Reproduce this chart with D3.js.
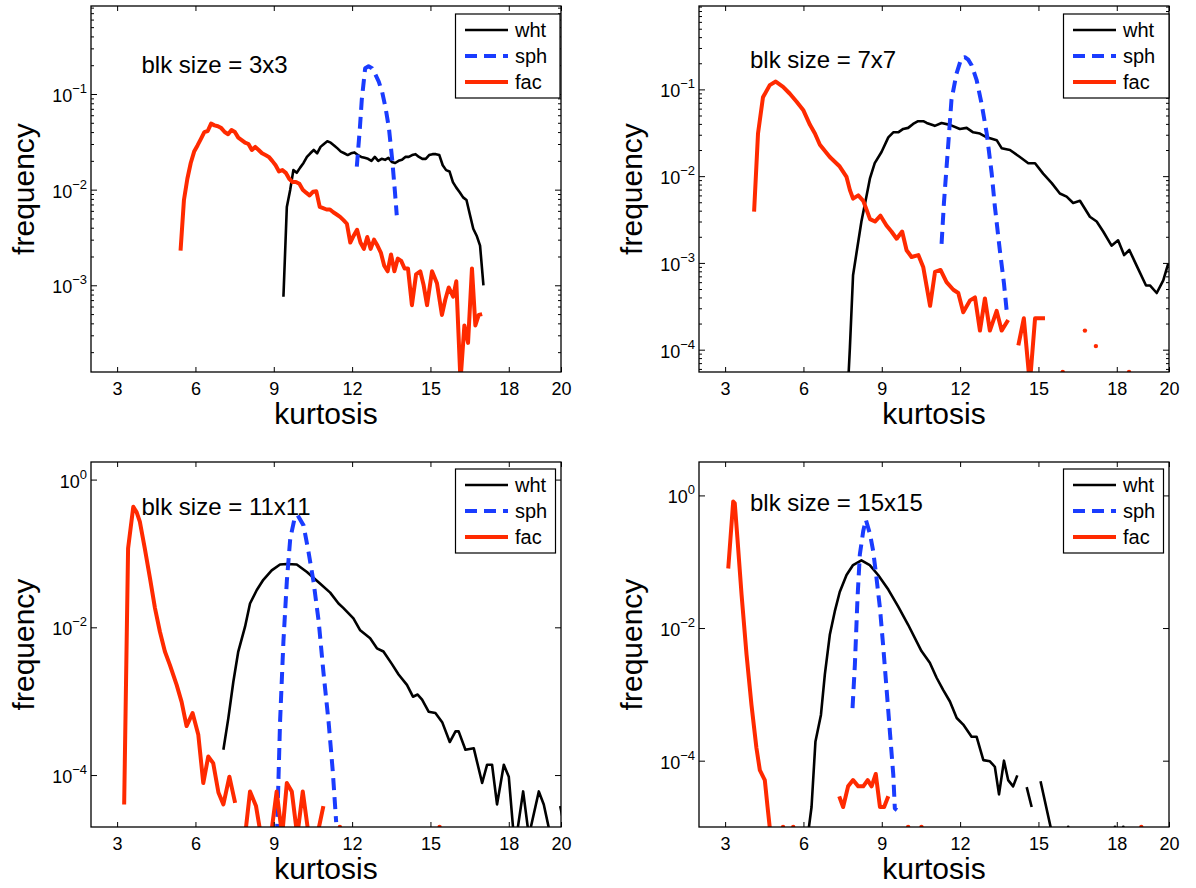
<!DOCTYPE html>
<html><head><meta charset="utf-8">
<script src="https://cdn.jsdelivr.net/npm/d3@7"></script>
<style>
body{margin:0;background:#fff}
svg{display:block}
text{font-family:"Liberation Sans",Arial,Helvetica,sans-serif;fill:#000}
</style>
</head><body>
<svg id="c" width="1196" height="888"></svg>
<script>
// ---------------- data ----------------
const xTicks = [3, 6, 9, 12, 15, 18, 20];
const xDomain = [2, 20];
const seriesNames = ["wht", "sph", "fac"];
const panelTitles = ["blk size = 3x3", "blk size = 7x7", "blk size = 11x11", "blk size = 15x15"];
const yExpTicks = [[-1, -2, -3], [-1, -2, -3, -4], [0, -2, -4], [0, -2, -4]];
const yMinorTicks = [true, true, false, false];
const yDomains = [[1.24e-4, 0.832], [5.53e-5, 0.914], [1.98e-5, 1.73], [1.0e-5, 3.19]];

// [kurtosis, frequency]; null = empty bin (gap)
const wht3x3 = [[9.37,7.6e-4],[9.50,6.6e-3],[9.63,1.0e-2],[9.75,1.6e-2],[9.88,1.5e-2],[10.01,1.7e-2],[10.14,1.9e-2],[10.27,2.2e-2],[10.40,2.4e-2],[10.53,2.6e-2],[10.66,2.4e-2],[10.79,2.8e-2],[10.92,3.0e-2],[11.05,3.2e-2],[11.18,3.1e-2],[11.31,2.9e-2],[11.44,2.7e-2],[11.57,2.5e-2],[11.70,2.4e-2],[11.83,2.3e-2],[11.96,2.4e-2],[12.09,2.45e-2],[12.22,2.3e-2],[12.35,2.2e-2],[12.48,2.15e-2],[12.61,2.1e-2],[12.74,2.0e-2],[12.87,2.2e-2],[13.00,2.0e-2],[13.13,2.1e-2],[13.26,2.05e-2],[13.39,2.15e-2],[13.52,1.95e-2],[13.65,1.9e-2],[13.78,2.0e-2],[13.91,2.05e-2],[14.04,2.2e-2],[14.17,2.2e-2],[14.30,2.3e-2],[14.43,2.35e-2],[14.56,2.2e-2],[14.69,2.1e-2],[14.82,2.1e-2],[14.95,2.3e-2],[15.08,2.35e-2],[15.21,2.35e-2],[15.34,2.3e-2],[15.47,1.8e-2],[15.60,1.6e-2],[15.73,1.55e-2],[15.86,1.2e-2],[15.99,1.05e-2],[16.12,9.4e-3],[16.25,8.3e-3],[16.38,7.8e-3],[16.51,5.5e-3],[16.64,3.9e-3],[16.77,3.3e-3],[16.90,2.6e-3],[17.03,1.0e-3]];
const sph3x3 = [[12.18,1.74e-2],[12.30,4.5e-2],[12.37,8.7e-2],[12.50,1.86e-1],[12.63,1.95e-1],[12.76,1.86e-1],[12.89,1.6e-1],[13.02,1.35e-1],[13.15,1.05e-1],[13.28,7.2e-2],[13.41,4.4e-2],[13.54,2.0e-2],[13.64,9.5e-3],[13.71,5.4e-3]];
const fac3x3 = [[5.43,2.3e-3],[5.56,7.8e-3],[5.69,1.3e-2],[5.82,1.9e-2],[5.95,2.5e-2],[6.08,2.9e-2],[6.21,3.4e-2],[6.34,4.0e-2],[6.47,4.1e-2],[6.60,4.9e-2],[6.73,4.7e-2],[6.86,4.6e-2],[6.99,4.4e-2],[7.12,4.0e-2],[7.25,3.8e-2],[7.38,4.2e-2],[7.51,4.0e-2],[7.64,3.5e-2],[7.77,3.3e-2],[7.90,3.1e-2],[8.03,3.0e-2],[8.16,2.6e-2],[8.29,2.8e-2],[8.42,2.6e-2],[8.55,2.4e-2],[8.68,2.3e-2],[8.81,2.2e-2],[8.94,2.0e-2],[9.07,1.8e-2],[9.20,1.55e-2],[9.33,1.6e-2],[9.46,1.5e-2],[9.59,1.3e-2],[9.72,1.2e-2],[9.85,1.2e-2],[9.98,1.15e-2],[10.11,1.0e-2],[10.24,9.3e-3],[10.37,8.7e-3],[10.50,9.5e-3],[10.63,9.6e-3],[10.76,6.6e-3],[10.89,6.4e-3],[11.02,6.2e-3],[11.15,6.2e-3],[11.28,5.8e-3],[11.41,5.5e-3],[11.54,5.2e-3],[11.67,4.8e-3],[11.80,4.4e-3],[11.93,2.8e-3],[12.06,3.3e-3],[12.19,3.8e-3],[12.32,2.8e-3],[12.45,2.4e-3],[12.58,3.2e-3],[12.71,2.4e-3],[12.84,3.0e-3],[12.97,2.6e-3],[13.10,2.2e-3],[13.23,1.6e-3],[13.36,1.4e-3],[13.49,2.1e-3],[13.62,1.4e-3],[13.75,1.9e-3],[13.88,1.8e-3],[14.01,1.5e-3],[14.14,1.5e-3],[14.29,6.2e-4],[14.45,1.3e-3],[14.61,1.4e-3],[14.74,1.0e-3],[14.87,6.2e-4],[15.06,1.4e-3],[15.25,1.05e-3],[15.44,4.9e-4],[15.57,7.1e-4],[15.70,9.5e-4],[15.87,7.6e-4],[15.99,1.1e-3],[16.15,1.0e-4],[16.30,3.8e-4],[16.44,2.5e-4],[16.59,1.5e-3],[16.72,3.8e-4],[16.85,4.9e-4],[16.98,5.0e-4]];

const wht7x7 = [[7.71,4e-5],[7.78,1.07e-4],[7.90,7.2e-4],[8.03,1.29e-3],[8.22,3.0e-3],[8.41,5.8e-3],[8.55,9.5e-3],[8.73,1.41e-2],[8.99,1.9e-2],[9.25,2.8e-2],[9.44,3.2e-2],[9.63,3.2e-2],[9.82,3.5e-2],[10.01,3.6e-2],[10.20,4.0e-2],[10.39,4.3e-2],[10.59,4.3e-2],[10.72,4.1e-2],[11.03,3.8e-2],[11.29,4.1e-2],[11.61,3.9e-2],[11.99,3.5e-2],[12.25,3.6e-2],[12.50,3.2e-2],[12.76,3.1e-2],[13.02,2.8e-2],[13.21,2.7e-2],[13.40,2.6e-2],[13.59,2.1e-2],[13.91,2.0e-2],[14.29,1.66e-2],[14.61,1.41e-2],[14.87,1.41e-2],[15.18,1.07e-2],[15.51,8.3e-3],[15.82,6.3e-3],[16.08,5.8e-3],[16.33,4.9e-3],[16.59,5.2e-3],[16.97,3.4e-3],[17.23,3.0e-3],[17.48,2.3e-3],[17.80,1.58e-3],[18.05,1.82e-3],[18.28,1.23e-3],[18.48,1.41e-3],[18.76,9.3e-4],[19.12,5.5e-4],[19.27,5.5e-4],[19.53,4.5e-4],[19.78,6.3e-4],[19.97,9.8e-4]];
const sph7x7 = [[11.29,1.66e-3],[11.38,4.9e-3],[11.54,2.2e-2],[11.67,7.6e-2],[11.86,1.51e-1],[12.05,2.3e-1],[12.18,2.35e-1],[12.31,2.2e-1],[12.44,1.9e-1],[12.63,1.29e-1],[12.82,6.9e-2],[13.02,3.1e-2],[13.21,1.07e-2],[13.33,4.5e-3],[13.52,1.41e-3],[13.68,5.8e-4],[13.80,2.5e-4]];
const fac7x7 = [[4.11,3.9e-3],[4.26,3.1e-2],[4.45,8.1e-2],[4.71,1.12e-1],[4.94,1.23e-1],[5.22,1.07e-1],[5.48,8.9e-2],[5.74,7.2e-2],[5.99,5.8e-2],[6.25,3.9e-2],[6.44,3.1e-2],[6.63,2.3e-2],[7.01,1.66e-2],[7.39,1.29e-2],[7.65,9.8e-3],[7.78,6.9e-3],[7.90,5.5e-3],[8.10,6.0e-3],[8.29,5.2e-3],[8.55,3.2e-3],[8.74,3.0e-3],[8.95,3.5e-3],[9.18,2.7e-3],[9.37,2.3e-3],[9.57,1.9e-3],[9.78,2.3e-3],[9.95,1.4e-3],[10.14,1.17e-3],[10.40,1.23e-3],[10.59,8.9e-4],[10.85,3.2e-4],[11.04,7.9e-4],[11.25,8.3e-4],[11.48,6.0e-4],[11.74,4.9e-4],[11.93,4.5e-4],[12.12,2.7e-4],[12.38,3.7e-4],[12.57,4.0e-4],[12.76,1.66e-4],[12.95,3.9e-4],[13.14,1.66e-4],[13.40,2.8e-4],[13.59,1.66e-4],[13.84,2.2e-4],[14.03,null],[14.23,1.12e-4],[14.44,2.3e-4],[14.67,4e-5],[14.87,2.3e-4],[15.06,2.3e-4],[15.25,2.3e-4],[15.5,null],[15.93,5.53e-5],[16.3,null],[16.78,1.66e-4],[17.0,null],[17.20,1.1e-4],[17.8,null],[18.47,5.53e-5]];

const wht11x11 = [[7.07,2.2e-4],[7.26,5.9e-4],[7.45,1.82e-3],[7.64,4.7e-3],[7.90,1.02e-2],[8.09,2.1e-2],[8.35,3.2e-2],[8.60,4.4e-2],[8.92,5.9e-2],[9.24,7.1e-2],[9.50,7.2e-2],[9.88,7.1e-2],[10.27,5.6e-2],[10.78,3.9e-2],[11.16,2.95e-2],[11.48,2.1e-2],[11.67,1.82e-2],[12.05,1.32e-2],[12.31,9.1e-3],[12.69,7.1e-3],[12.95,5.2e-3],[13.20,4.7e-3],[13.52,3.2e-3],[13.78,2.3e-3],[14.10,1.66e-3],[14.33,1.15e-3],[14.51,1.23e-3],[14.68,1.05e-3],[14.93,7.2e-4],[15.19,6.9e-4],[15.45,5.2e-4],[15.74,2.8e-4],[15.96,3.9e-4],[16.08,3.9e-4],[16.34,2.2e-4],[16.66,2.3e-4],[16.98,7.8e-5],[17.17,1.38e-4],[17.36,1.38e-4],[17.55,4.0e-5],[17.81,1.38e-4],[18.00,9.5e-5],[18.19,1.5e-5],[18.30,1.5e-5],[18.55,6.0e-5],[18.77,1.5e-5],[19.15,6.0e-5],[19.34,4.0e-5],[19.60,1.5e-5],[19.78,null],[19.97,3.8e-5],[20.2,1.5e-5]];
const sph11x11 = [[9.12,1.5e-5],[9.24,5.2e-4],[9.37,6.5e-3],[9.50,4.2e-2],[9.63,1.58e-1],[9.78,2.8e-1],[9.91,3.3e-1],[10.14,2.4e-1],[10.33,1.05e-1],[10.52,4.2e-2],[10.72,1.2e-2],[10.90,2.5e-3],[11.10,5.2e-4],[11.26,1.12e-4],[11.39,2.3e-5]];
const fac11x11 = [[3.27,4.0e-5],[3.42,1.17e-1],[3.62,4.3e-1],[3.75,3.6e-1],[3.87,2.7e-1],[4.06,1.17e-1],[4.26,4.6e-2],[4.45,1.82e-2],[4.64,8.7e-3],[4.83,4.7e-3],[5.02,3.1e-3],[5.28,1.66e-3],[5.47,9.8e-4],[5.66,4.6e-4],[5.89,6.9e-4],[6.11,3.5e-4],[6.30,7.8e-5],[6.49,1.78e-4],[6.68,1.45e-4],[6.88,5.8e-5],[7.07,4.0e-5],[7.30,9.5e-5],[7.52,4.2e-5],[7.71,null],[7.90,1.5e-5],[8.09,6.0e-5],[8.32,3.8e-5],[8.51,1.5e-5],[8.89,1.5e-5],[9.11,6.0e-5],[9.32,1.5e-5],[9.50,7.8e-5],[9.69,6.0e-5],[9.90,1.5e-5],[10.11,6.0e-5],[10.34,1.5e-5],[10.66,1.5e-5],[10.90,3.8e-5],[11.2,null],[11.53,1.98e-5],[13.4,null],[15.35,1.98e-5]];

const wht15x15 = [[6.16,7e-6],[6.31,2.0e-5],[6.46,1.95e-4],[6.67,4.9e-4],[6.82,2.0e-3],[7.01,7.9e-3],[7.20,1.78e-2],[7.39,3.5e-2],[7.65,6.3e-2],[7.90,8.9e-2],[8.22,1.05e-1],[8.54,8.9e-2],[8.86,6.3e-2],[9.25,3.8e-2],[9.63,2.1e-2],[10.01,1.12e-2],[10.52,4.5e-3],[10.84,3.0e-3],[11.10,1.78e-3],[11.35,1.17e-3],[11.61,7.8e-4],[11.87,4.4e-4],[12.12,3.5e-4],[12.44,2.3e-4],[12.63,2.3e-4],[12.89,1.02e-4],[13.14,9.8e-5],[13.33,8.1e-5],[13.49,3.1e-5],[13.68,1.0e-4],[13.84,5.1e-5],[14.03,4.1e-5],[14.19,6.0e-5],[14.37,null],[14.55,4.0e-5],[14.74,2.0e-5],[14.91,null],[15.08,4.9e-5],[15.52,8e-6],[15.8,null],[16.14,1e-5],[17.0,null],[17.93,1e-5],[18.1,null],[18.25,1e-5]];
const sph15x15 = [[7.88,6.2e-4],[7.97,2.8e-3],[8.07,2.8e-2],[8.16,1.29e-1],[8.29,2.9e-1],[8.39,4.3e-1],[8.55,2.6e-1],[8.67,1.45e-1],[8.80,5.6e-2],[8.93,2.0e-2],[9.06,5.0e-3],[9.18,1.26e-3],[9.31,2.75e-4],[9.44,6.2e-5],[9.50,1.9e-5],[9.58,1.8e-5]];
const fac15x15 = [[3.12,7.9e-2],[3.31,8.1e-1],[3.37,7.6e-1],[3.47,2.3e-1],[3.63,3.2e-2],[3.82,4.0e-3],[4.01,6.9e-4],[4.20,1.55e-4],[4.33,7.2e-5],[4.52,5.1e-5],[4.62,2.1e-5],[4.75,7e-6],[5.0,null],[5.22,1e-5],[5.4,null],[5.61,1e-5],[6.5,null],[7.37,2.9e-5],[7.52,2.0e-5],[7.71,4.1e-5],[7.90,5.1e-5],[8.10,4.1e-5],[8.29,4.1e-5],[8.46,5.1e-5],[8.61,4.1e-5],[8.77,6.3e-5],[8.93,2.0e-5],[9.09,2.0e-5],[9.25,2.9e-5],[9.6,null],[10.01,1e-5],[10.3,null],[10.52,1e-5],[14.0,null],[18.94,1e-5]];

const panelData = [
  {wht: wht3x3, sph: sph3x3, fac: fac3x3},
  {wht: wht7x7, sph: sph7x7, fac: fac7x7},
  {wht: wht11x11, sph: sph11x11, fac: fac11x11},
  {wht: wht15x15, sph: sph15x15, fac: fac15x15}
];

// ---------------- layout & style ----------------
const layout = [
  {left: 91,  right: 561,  top: 6,   bottom: 372, legW: 104.5, legTop: 14,  titleX: 141.5, titleY: 73},
  {left: 699, right: 1169, top: 6,   bottom: 372, legW: 105.5, legTop: 14,  titleX: 750,   titleY: 68},
  {left: 91,  right: 561,  top: 462, bottom: 827, legW: 100,   legTop: 469, titleX: 141.5, titleY: 515},
  {left: 699, right: 1169, top: 462, bottom: 827, legW: 100,   legTop: 469, titleX: 750,   titleY: 511}
];
const style = {
  wht: {color: "#000000", width: 2.6, dash: null},
  sph: {color: "#1a3cff", width: 4, dash: "12,7"},
  fac: {color: "#ff2a00", width: 4, dash: null}
};

const svg = d3.select("#c");
const defs = svg.append("defs");

layout.forEach((L, idx) => {
  const x = d3.scaleLinear().domain(xDomain).range([L.left, L.right]);
  const y = d3.scaleLog().domain(yDomains[idx]).range([L.bottom, L.top]);
  const g = svg.append("g");

  const clipId = "clip" + idx;
  defs.append("clipPath").attr("id", clipId).append("rect")
    .attr("x", L.left).attr("y", L.top)
    .attr("width", L.right - L.left).attr("height", L.bottom - L.top);

  // ---- series ----
  const plot = g.append("g").attr("clip-path", `url(#${clipId})`);
  seriesNames.forEach(name => {
    const data = panelData[idx][name];
    const st = style[name];
    const line = d3.line()
      .defined(d => d[1] != null)
      .x(d => x(d[0])).y(d => y(d[1]));
    plot.append("path").datum(data)
      .attr("d", line)
      .attr("fill", "none")
      .attr("stroke", st.color)
      .attr("stroke-width", st.width)
      .attr("stroke-linejoin", "round")
      .attr("stroke-dasharray", st.dash);
    // isolated points (neighbours empty) appear as dots
    const iso = data.filter((d, i) => d[1] != null &&
      (i === 0 || data[i - 1][1] == null) && (i === data.length - 1 || data[i + 1][1] == null));
    plot.selectAll(null).data(iso).enter().append("circle")
      .attr("cx", d => x(d[0])).attr("cy", d => y(d[1]))
      .attr("r", name === "wht" ? 1.4 : 2.2).attr("fill", st.color);
  });

  // ---- axes ----
  const xb = g.append("g").attr("transform", `translate(0,${L.bottom})`)
    .call(d3.axisBottom(x).tickValues(xTicks).tickSize(-5).tickPadding(10));
  xb.select(".domain").remove();
  xb.selectAll("text").attr("font-size", 18).attr("font-family", null);
  const xt = g.append("g").attr("transform", `translate(0,${L.top})`)
    .call(d3.axisTop(x).tickValues(xTicks).tickSize(-5).tickFormat(""));
  xt.select(".domain").remove();

  const majors = yExpTicks[idx].map(e => Math.pow(10, e));
  const [d0, d1] = yDomains[idx];
  let minors = [];
  if (yMinorTicks[idx]) {
    for (let e = Math.floor(Math.log10(d0)); e <= Math.ceil(Math.log10(d1)); e++) {
      for (let m = 2; m <= 9; m++) {
        const v = m * Math.pow(10, e);
        if (v >= d0 && v <= d1) minors.push(v);
      }
    }
  }
  [["left", d3.axisLeft, L.left], ["right", d3.axisRight, L.right]].forEach(([side, ax, pos]) => {
    const a = g.append("g").attr("transform", `translate(${pos},0)`)
      .call(ax(y).tickValues(majors).tickSize(-6).tickFormat(""));
    a.select(".domain").remove();
    if (minors.length) {
      const m = g.append("g").attr("transform", `translate(${pos},0)`)
        .call(ax(y).tickValues(minors).tickSize(-3).tickFormat(""));
      m.select(".domain").remove();
    }
  });
  g.selectAll(".tick line").attr("stroke", "#000").attr("stroke-width", 1);

  // y tick labels 10^e
  yExpTicks[idx].forEach(e => {
    const t = g.append("text").attr("x", L.left - 4).attr("y", y(Math.pow(10, e)) + 8)
      .attr("text-anchor", "end").attr("font-size", 18);
    t.append("tspan").text("10");
    t.append("tspan").attr("dy", -9).attr("font-size", 13).text(e === 0 ? "0" : "\u2212" + Math.abs(e));
  });

  // box
  g.append("rect").attr("x", L.left).attr("y", L.top)
    .attr("width", L.right - L.left).attr("height", L.bottom - L.top)
    .attr("fill", "none").attr("stroke", "#000").attr("stroke-width", 1.3);

  // axis titles
  g.append("text").attr("x", (L.left + L.right) / 2).attr("y", L.bottom + 52)
    .attr("text-anchor", "middle").attr("font-size", 30).text("kurtosis");
  g.append("text").attr("transform", `translate(${L.left - 57},${(L.top + L.bottom) / 2}) rotate(-90)`)
    .attr("text-anchor", "middle").attr("font-size", 30).text("frequency");

  // panel annotation
  g.append("text").attr("x", L.titleX).attr("y", L.titleY).attr("font-size", 24).text(panelTitles[idx]);

  // legend
  const lx = L.right - 105.5;
  const lg = g.append("g");
  lg.append("rect").attr("x", lx).attr("y", L.legTop).attr("width", L.legW).attr("height", 84)
    .attr("fill", "#fff").attr("stroke", "#000").attr("stroke-width", 1.2);
  seriesNames.forEach((name, i) => {
    const cy = L.legTop + 16 + i * 26;
    const st = style[name];
    lg.append("line").attr("x1", lx + 9.5).attr("x2", lx + 52.5).attr("y1", cy).attr("y2", cy)
      .attr("stroke", st.color).attr("stroke-width", st.width).attr("stroke-dasharray", st.dash);
    lg.append("text").attr("x", lx + 59.5).attr("y", cy + 7.3).attr("font-size", 20).text(name);
  });
});
</script>
</body></html>
